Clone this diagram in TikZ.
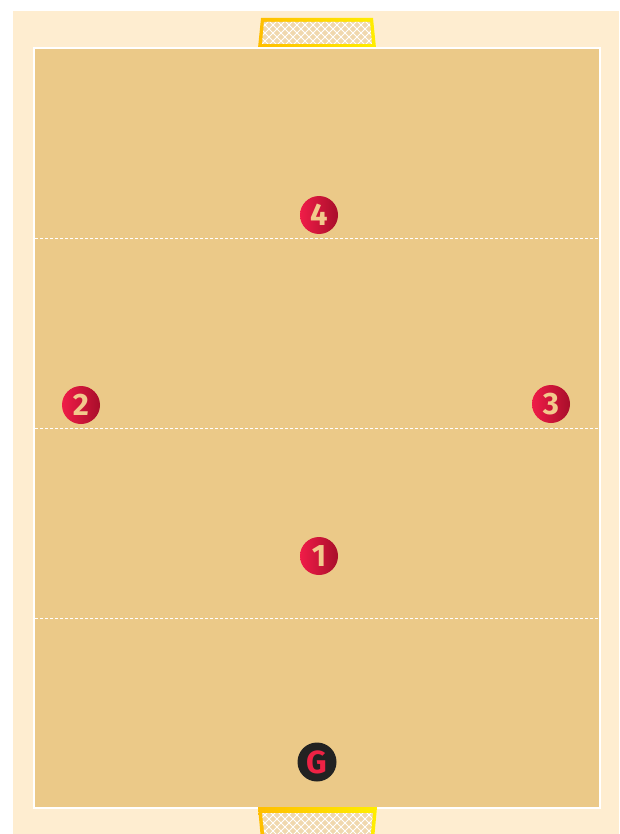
\documentclass[tikz,border=0pt]{standalone}
\usepackage{fontspec}
\newfontfamily\playerfont{Fira Sans Bold}
\definecolor{cream}{HTML}{FEEDD0}
\definecolor{court}{HTML}{EBC988}
\definecolor{nettan}{HTML}{F0D8AE}
\definecolor{numtan}{HTML}{F2C98C}
\definecolor{redA}{HTML}{F01C48}
\definecolor{redB}{HTML}{A80E2A}
\definecolor{gold1}{HTML}{FFBE00}
\definecolor{gold2}{HTML}{FFEE00}
\definecolor{gred}{HTML}{EE2244}
\definecolor{gblack}{HTML}{222222}
\tikzset{
  player/.style={circle, minimum size=38pt, inner sep=0pt, shade, shading angle=90,
     left color=redA, right color=redB, text=numtan, font=\playerfont\fontsize{31}{31}\selectfont},
  keeper/.style={circle, minimum size=39pt, inner sep=0pt, fill=gblack, text=gred,
     font=\playerfont\fontsize{32}{32}\selectfont},
  zoneline/.style={white, line width=1pt, dash pattern=on 3pt off 2pt},
  netline/.style={white, line width=1pt},
  frame/.style={left color=gold1, right color=gold2}
}
\begin{document}
\begin{tikzpicture}[x=1pt,y=-1pt]
\useasboundingbox (0,0) rectangle (619,834);
\fill[white] (0,0) rectangle (619,834);
\fill[cream] (13,11) rectangle (619,834);
% top goal
\shade[frame] (258,48) -- (261,18) -- (373,18) -- (376,48) -- cycle;
\begin{scope}
  \clip (262,44) -- (264,22) -- (370,22) -- (372,44) -- cycle;
  \fill[nettan] (255,15) rectangle (380,50);
  \foreach \i in {-40,-32,...,160} {
    \draw[netline] (258+\i,18) -- (288+\i,48);
    \draw[netline] (288+\i,18) -- (258+\i,48);
  }
\end{scope}
% court
\fill[court] (34,48) rectangle (600,808);
\draw[white, line width=2pt] (34,48) rectangle (600,808);
\draw[zoneline] (35,238) -- (599,238);
\draw[zoneline] (35,428) -- (599,428);
\draw[zoneline] (35,618) -- (599,618);
% bottom goal
\shade[frame] (258,807) -- (377,807) -- (374,840) -- (261,840) -- cycle;
\begin{scope}
  \clip (262,813) -- (373,813) -- (370,840) -- (265,840) -- cycle;
  \fill[nettan] (255,805) rectangle (380,845);
  \foreach \i in {-40,-32,...,160} {
    \draw[netline] (258+\i,808) -- (288+\i,838);
    \draw[netline] (288+\i,808) -- (258+\i,838);
  }
\end{scope}
% players
\node[player] (p4) at (319,215) {4};
\node[player] (p2) at (81,405) {2};
\node[player] (p3) at (551,404) {3};
\node[player] (p1) at (319,556) {1};
\node[keeper] (g) at (317,762) {G};
\end{tikzpicture}
\end{document}
